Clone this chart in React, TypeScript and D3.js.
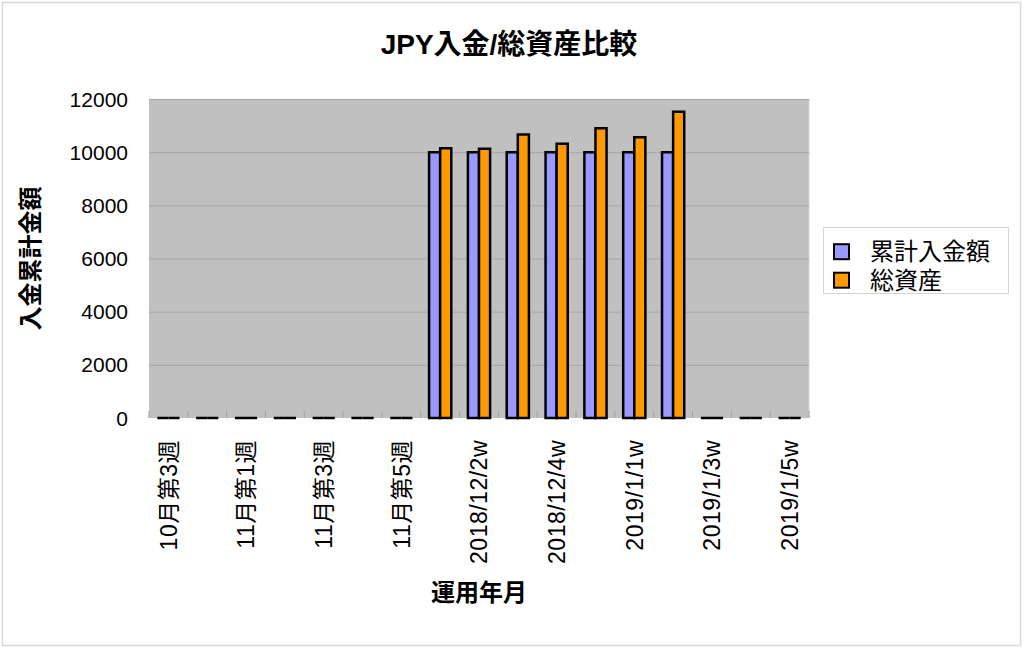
import * as d3 from "d3";

const width = 1024;
const height = 649;

const plot = { left: 149, right: 809, top: 99, bottom: 418 };

const categories = [
  "10月第3週",
  "10月第4週",
  "11月第1週",
  "11月第2週",
  "11月第3週",
  "11月第4週",
  "11月第5週",
  "2018/12/1w",
  "2018/12/2w",
  "2018/12/3w",
  "2018/12/4w",
  "2018/12/5w",
  "2019/1/1w",
  "2019/1/2w",
  "2019/1/3w",
  "2019/1/4w",
  "2019/1/5w",
];

// 累計入金額
const deposits = [0, 0, 0, 0, 0, 0, 0, 10000, 10000, 10000, 10000, 10000, 10000, 10000, 0, 0, 0];
// 総資産
const totals = [0, 0, 0, 0, 0, 0, 0, 10150, 10130, 10660, 10320, 10900, 10560, 11520, 0, 0, 0];

const yTicks = [0, 2000, 4000, 6000, 8000, 10000, 12000];

const seriesNames = ["累計入金額", "総資産"];
const seriesColors = ["#9999ff", "#ff9900"];

const font = "'Liberation Sans', 'Noto Sans CJK JP', sans-serif";

export default function App() {
  const x = d3
    .scaleBand<string>()
    .domain(categories)
    .range([plot.left, plot.right])
    .paddingInner(1.5 / 3.5)
    .paddingOuter(0.75 / 3.5);

  const x1 = d3
    .scaleBand<number>()
    .domain([0, 1])
    .range([0, x.bandwidth()]);

  const y = d3.scaleLinear().domain([0, 12000]).range([plot.bottom, plot.top]);

  const step = x.step();
  const series = [deposits, totals];

  // zero values still show as a black line, so draw bars as paths
  const barPath = (x0: number, w: number, v: number) => {
    const p = d3.path();
    p.moveTo(x0, y(0));
    p.lineTo(x0, y(v));
    p.lineTo(x0 + w, y(v));
    p.lineTo(x0 + w, y(0));
    p.closePath();
    return p.toString();
  };

  return (
    <svg
      width={width}
      height={height}
      style={{ position: "absolute", left: 0, top: 0, display: "block", background: "#fff" }}
      fontFamily={font}
    >
      <rect x={2.5} y={2.5} width={1018} height={643} fill="#fff" stroke="#d9d9d9" strokeWidth={1.5} />

      <text x={509} y={54} textAnchor="middle" fontSize={28} fontWeight="bold" fill="#000">
        JPY入金/総資産比較
      </text>

      {/* plot area */}
      <rect
        x={plot.left}
        y={plot.top}
        width={plot.right - plot.left}
        height={plot.bottom - plot.top}
        fill="#c0c0c0"
      />
      <line x1={plot.right} x2={plot.right} y1={plot.top} y2={plot.bottom} stroke="#d6d6d6" />

      {yTicks.map((t) => (
        <g key={t}>
          {t > 0 && (
            <line
              x1={plot.left}
              x2={plot.right}
              y1={y(t) + 0.5}
              y2={y(t) + 0.5}
              stroke="#a6a6a6"
              strokeWidth={1}
            />
          )}
          <text x={128} y={y(t)} dy="0.36em" textAnchor="end" fontSize={21} fill="#000">
            {t}
          </text>
        </g>
      ))}

      {d3.range(categories.length + 1).map((i) => (
        <line
          key={i}
          x1={plot.left + i * step}
          x2={plot.left + i * step}
          y1={plot.bottom - 7}
          y2={plot.bottom}
          stroke="#a0a0a0"
        />
      ))}

      {categories.map((c, i) => (
        <g key={c}>
          {series.map((s, k) => (
            <path
              key={k}
              d={barPath((x(c) ?? 0) + (x1(k) ?? 0), x1.bandwidth(), s[i])}
              fill={seriesColors[k]}
              stroke="#000"
              strokeWidth={2.5}
            />
          ))}
        </g>
      ))}

      {categories.map((c, i) =>
        i % 2 === 0 ? (
          <text
            key={c}
            transform={`translate(${(x(c) ?? 0) + x.bandwidth() / 2}, 440) rotate(-90)`}
            dy="0.36em"
            textAnchor="end"
            fontSize={23}
            letterSpacing={0.5}
            fill="#000"
          >
            {c}
          </text>
        ) : null,
      )}

      <text
        transform={`translate(30, ${(plot.top + plot.bottom) / 2}) rotate(-90)`}
        dy="0.36em"
        textAnchor="middle"
        fontSize={24}
        fontWeight="bold"
        fill="#000"
      >
        入金累計金額
      </text>

      <text x={(plot.left + plot.right) / 2} y={601} textAnchor="middle" fontSize={24} fontWeight="bold" fill="#000">
        運用年月
      </text>

      {/* legend */}
      <g transform="translate(823, 227)">
        <rect x={0.5} y={0.5} width={185} height={66} fill="#fff" stroke="#d4d4d4" />
        {seriesNames.map((n, k) => (
          <g key={n} transform={`translate(0, ${24.7 + k * 28.5})`}>
            <rect x={11} y={-7.5} width={15} height={15} fill={seriesColors[k]} stroke="#000" strokeWidth={2} />
            <text x={47} y={0} dy="0.36em" fontSize={24} fill="#000">
              {n}
            </text>
          </g>
        ))}
      </g>
    </svg>
  );
}
